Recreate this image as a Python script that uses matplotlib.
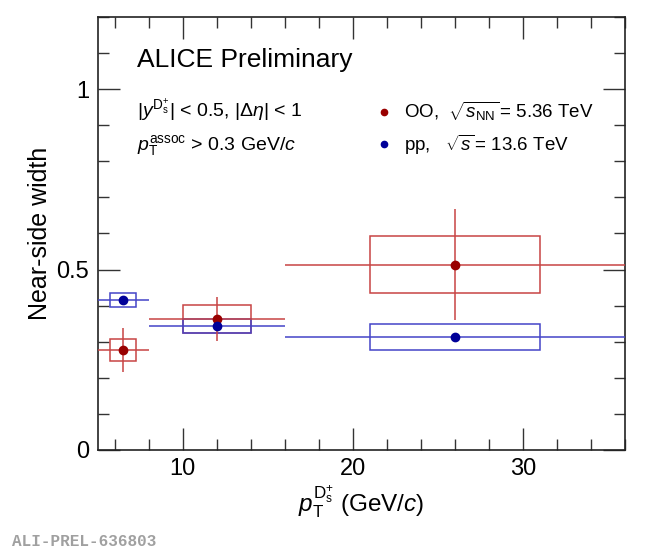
import matplotlib
matplotlib.use("Agg")
import matplotlib.pyplot as plt
from matplotlib.lines import Line2D
from matplotlib.ticker import MultipleLocator, FuncFormatter
import numpy as np

plt.rcParams['font.family'] = ['Liberation Sans', 'DejaVu Sans']
plt.rcParams['mathtext.fontset'] = 'custom'
plt.rcParams['mathtext.rm'] = 'Liberation Sans'
plt.rcParams['mathtext.it'] = 'Liberation Sans:italic'
plt.rcParams['mathtext.bf'] = 'Liberation Sans:bold'
plt.rcParams['mathtext.sf'] = 'Liberation Sans'

# ---- data ----
pt_center = [6.5, 12.0, 26.0]
pt_low = [5.0, 8.0, 16.0]
pt_high = [8.0, 16.0, 36.0]
box_halfwidth = [0.75, 2.0, 5.0]

oo_width = [0.277, 0.363, 0.514]
oo_stat = [0.062, 0.060, 0.153]
oo_syst = [0.030, 0.038, 0.078]

pp_width = [0.415, 0.343, 0.313]
pp_stat = [0.008, 0.006, 0.010]
pp_syst = [0.019, 0.019, 0.036]

oo_label = r'OO,  $\sqrt{s_{\mathrm{NN}}}\,$= 5.36 TeV'
pp_label = r'pp,   $\sqrt{s}\,$= 13.6 TeV'

oo_marker, oo_line = '#990000', '#c84444'
pp_marker, pp_line = '#000099', '#4444c8'

fig = plt.figure(figsize=(6.5, 5.5), dpi=100)
ax = fig.add_axes([97.5 / 650, 1 - 450 / 550, 527.5 / 650, 433 / 550])

x = np.array(pt_center)
xerr = [x - np.array(pt_low), np.array(pt_high) - x]
bw = 2 * np.array(box_halfwidth)

for yv, st, sy, mc, lc in [(oo_width, oo_stat, oo_syst, oo_marker, oo_line),
                           (pp_width, pp_stat, pp_syst, pp_marker, pp_line)]:
    yv = np.array(yv); sy = np.array(sy)
    ax.bar(x, 2 * sy, bottom=yv - sy, width=bw, fill=False,
           edgecolor=lc, linewidth=1.1, zorder=2)
    ax.errorbar(x, yv, xerr=xerr, yerr=st, fmt='none', ecolor=lc,
                elinewidth=1.1, capsize=0, zorder=3)
    ax.plot(x, yv, 'o', color=mc, ms=6, zorder=4)

ax.set_xlim(5, 36)
ax.set_ylim(0, 1.2)
ax.xaxis.set_major_locator(MultipleLocator(10))
ax.xaxis.set_minor_locator(MultipleLocator(2))
ax.yaxis.set_major_locator(MultipleLocator(0.5))
ax.yaxis.set_minor_locator(MultipleLocator(0.1))
fmt = FuncFormatter(lambda v, p: '%g' % v)
ax.xaxis.set_major_formatter(fmt)
ax.yaxis.set_major_formatter(fmt)
ax.tick_params(which='both', direction='in', top=True, right=True,
               labelsize=17, color='#333333', width=1.0)
ax.tick_params(which='major', length=16, pad=6)
ax.tick_params(which='minor', length=8)
for s in ax.spines.values():
    s.set_linewidth(1.2)
    s.set_color('#222222')

ax.set_xlabel(r'$p_{\mathrm{T}}^{\mathrm{D}_{\mathrm{s}}^{+}}$ (GeV/$c$)', fontsize=17.5, labelpad=2)
ax.set_ylabel('Near-side width', fontsize=18, labelpad=3)

ax.text(0.075, 0.884, 'ALICE Preliminary', transform=ax.transAxes,
        fontsize=19, va='baseline', ha='left')
ax.text(0.075, 0.768, r'$|y^{\mathrm{D}_{\mathrm{s}}^{+}}|$ < 0.5, $|\Delta\eta|$ < 1',
        transform=ax.transAxes, fontsize=14, va='baseline', ha='left')
ax.text(0.075, 0.693, r'$p_{\mathrm{T}}^{\mathrm{assoc}}$ > 0.3 GeV/$c$',
        transform=ax.transAxes, fontsize=14, va='baseline', ha='left')

handles = [Line2D([], [], marker='o', ls='none', color=oo_marker, ms=4.5),
           Line2D([], [], marker='o', ls='none', color=pp_marker, ms=4.5)]
ax.legend(handles, [oo_label, pp_label], loc='upper left',
          bbox_to_anchor=(0.528, 0.808), frameon=False, fontsize=13.5,
          handlelength=0.8, handletextpad=0.7, borderpad=0, borderaxespad=0,
          labelspacing=0.5)

fig.text(12 / 650, 1 - 546 / 550, 'ALI-PREL-636803', fontsize=11.5,
         family=['Liberation Mono', 'DejaVu Sans Mono'], weight='bold',
         color='#a0a0a0', va='baseline', ha='left')

fig.savefig('out.png', dpi=100)
